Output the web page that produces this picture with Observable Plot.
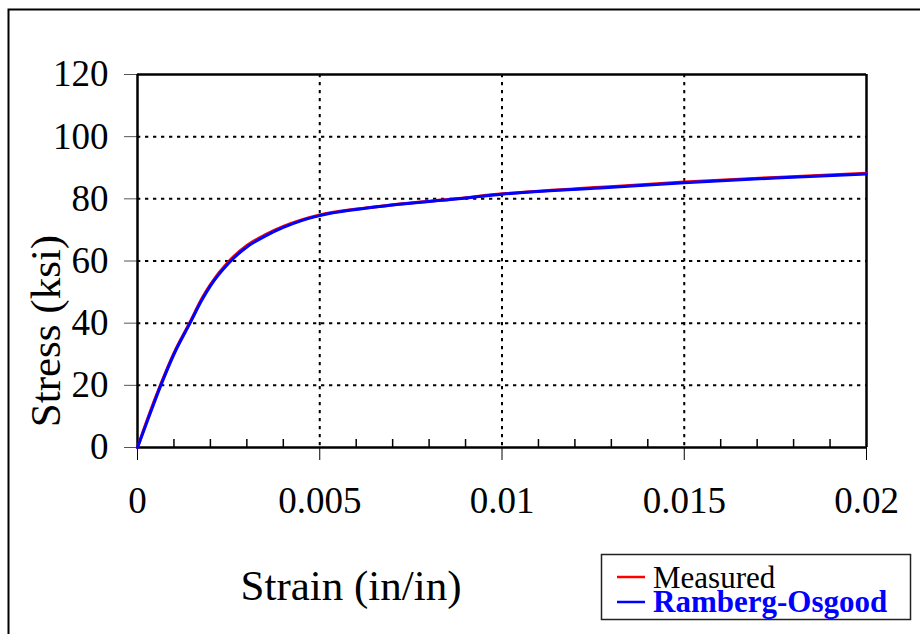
<!DOCTYPE html>
<html>
<head>
<meta charset="utf-8">
<script src="https://cdn.jsdelivr.net/npm/d3@7"></script>
<script src="https://cdn.jsdelivr.net/npm/@observablehq/plot@0.6"></script>
<style>
  html, body { margin: 0; padding: 0; background: #fff; }
  #chart svg { display: block; }
</style>
</head>
<body>
<div id="chart"></div>
<script>
// ---- data ----
const strain = [0, 0.0003, 0.00064, 0.001, 0.00144, 0.00177, 0.002, 0.0025, 0.003, 0.0035, 0.004, 0.0045, 0.005, 0.006, 0.007, 0.0088, 0.01, 0.0127, 0.015, 0.0175, 0.02];
const measuredStress = [0, 10, 20.4, 30.4, 40.3, 48.0, 52.4, 59.8, 65.0, 68.4, 71.1, 73.2, 74.8, 76.7, 78.1, 80.1, 81.6, 83.7, 85.4, 86.9, 88.2];
const roStress = [0, 9.5, 20, 30, 40, 47.5, 52, 59.3, 64.5, 68.0, 70.8, 73.0, 74.6, 76.6, 78, 80, 81.5, 83.5, 85.2, 86.7, 88];
const xMajorTicks = [0, 0.005, 0.01, 0.015, 0.02];
const xTickLabels = ["0", "0.005", "0.01", "0.015", "0.02"];
const xMinorTicks = [0.001, 0.002, 0.003, 0.004, 0.006, 0.007, 0.008, 0.009, 0.011, 0.012, 0.013, 0.014, 0.016, 0.017, 0.018, 0.019];
const yTicks = [0, 20, 40, 60, 80, 100, 120];
const xGrid = [0.005, 0.01, 0.015];
const yGrid = [20, 40, 60, 80, 100];
const seriesNames = ["Measured", "Ramberg-Osgood"];
const seriesColors = ["#ff0000", "#0000ff"];
const xTitle = "Strain (in/in)";
const yTitle = "Stress (ksi)";

const measured = strain.map((s, i) => ({strain: s, stress: measuredStress[i]}));
const ro = strain.map((s, i) => ({strain: s, stress: roStress[i]}));

const FONT = "'Liberation Serif', 'Times New Roman', serif";
const dash = "3.3,4.7";

const chart = Plot.plot({
  width: 920,
  height: 634,
  marginLeft: 137,
  marginRight: 54,
  marginTop: 74,
  marginBottom: 187,
  style: {fontFamily: FONT, background: "#fff", color: "#000"},
  x: {domain: [0, 0.02]},
  y: {domain: [0, 120]},
  marks: [
    Plot.gridX(xGrid, {stroke: "#000", strokeOpacity: 1, strokeWidth: 2, strokeDasharray: dash}),
    Plot.gridY(yGrid, {stroke: "#000", strokeOpacity: 1, strokeWidth: 2, strokeDasharray: dash}),
    Plot.ruleY([120], {stroke: "#000", strokeWidth: 2.5}),
    Plot.ruleX([0.02], {stroke: "#000", strokeWidth: 2.5}),
    Plot.axisY(yTicks, {tickSize: 13, tickPadding: 16, fontSize: 37, fontFamily: FONT, label: null, stroke: "#555", color: "#000"}),
    Plot.axisX(xMajorTicks, {tickSize: 13, tickPadding: 26, fontSize: 37, fontFamily: FONT, label: null, tickFormat: (d, i) => xTickLabels[i], stroke: "#000"}),
    Plot.axisX(xMinorTicks, {tickSize: -8, tickFormat: () => "", label: null, stroke: "#000", strokeWidth: 1.5}),
    Plot.ruleX([0], {stroke: "#000", strokeWidth: 2.5}),
    Plot.ruleY([0], {stroke: "#000", strokeWidth: 2.5}),
    Plot.line(measured, {x: "strain", y: "stress", stroke: seriesColors[0], strokeWidth: 3, curve: "monotone-x"}),
    Plot.line(ro, {x: "strain", y: "stress", stroke: seriesColors[1], strokeWidth: 3, curve: "monotone-x"}),
    Plot.text([xTitle], {frameAnchor: "bottom", dx: -151, dy: 139, fontSize: 43, fontFamily: FONT, fill: "#000", lineAnchor: "middle", textAnchor: "middle"})
  ]
});

// y title, outer border & legend
const svg = d3.select(chart);
svg.append("text")
  .attr("transform", "translate(60,331) rotate(-90)")
  .attr("text-anchor", "middle")
  .attr("font-family", FONT)
  .attr("font-size", 43)
  .attr("fill", "#000")
  .text(yTitle);
svg.append("path").attr("d", "M8.5,634V9.5H920").attr("fill", "none").attr("stroke", "#000").attr("stroke-width", 2);
const lg = svg.append("g").attr("font-family", FONT).attr("text-anchor", "start");
lg.append("rect").attr("x", 601.5).attr("y", 554.5).attr("width", 309).attr("height", 65)
  .attr("fill", "#fff").attr("stroke", "#222").attr("stroke-width", 1.5);
const legY = [577, 602];
const legBase = [588, 612];
seriesNames.forEach((name, i) => {
  lg.append("line").attr("x1", 617).attr("x2", 645).attr("y1", legY[i]).attr("y2", legY[i])
    .attr("stroke", seriesColors[i]).attr("stroke-width", 2.5);
  lg.append("text").attr("x", 653).attr("y", legBase[i]).attr("font-size", 31)
    .attr("text-anchor", "start")
    .attr("fill", i === 0 ? "#000" : seriesColors[1]).attr("font-weight", i === 0 ? "normal" : "bold")
    .text(name);
});

document.getElementById("chart").appendChild(chart);
</script>
</body>
</html>
